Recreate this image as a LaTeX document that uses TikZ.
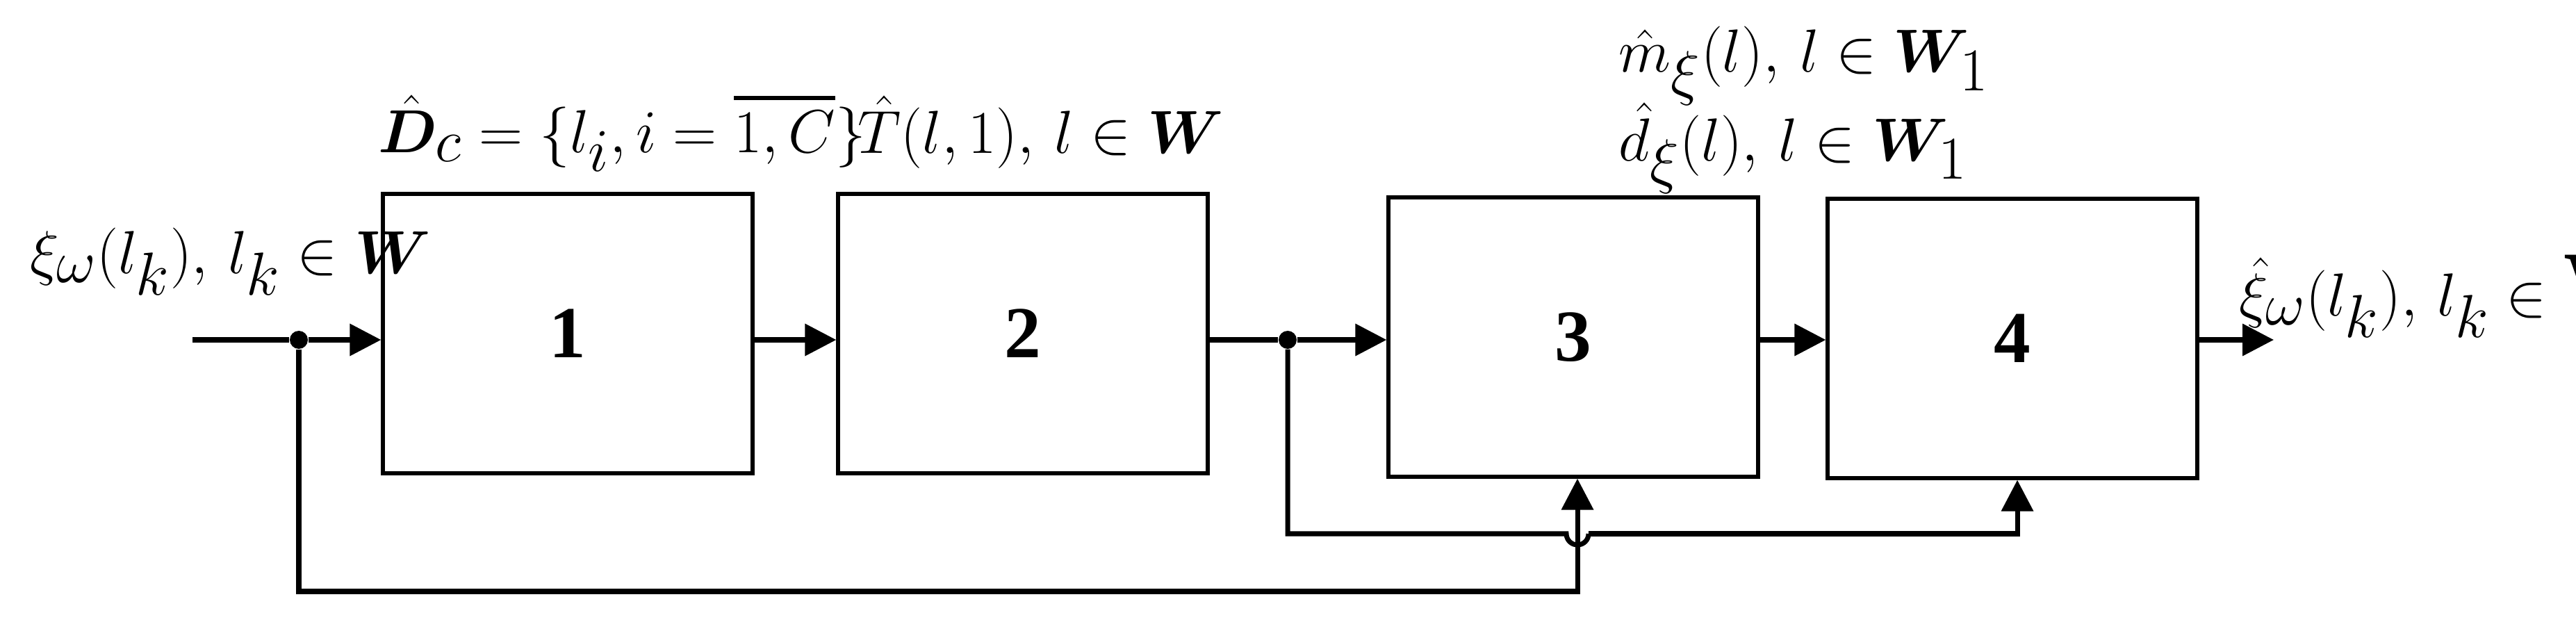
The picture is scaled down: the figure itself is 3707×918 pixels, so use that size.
\documentclass[tikz,border=0pt]{standalone}
\usepackage{amsmath,amssymb,bm}
\usepackage{fontspec}
\setmainfont{Liberation Serif}
\usetikzlibrary{arrows.meta}
\begin{document}
\begin{tikzpicture}[x=0.1mm,y=-0.1mm,
  blk/.style={draw,line width=1.5pt,minimum width=53.2mm,minimum height=40.2mm,inner sep=0,font=\fontsize{30}{30}\selectfont\bfseries},
  ln/.style={line width=2pt},
  arr/.style={ln,-{Triangle[length=4.5mm,width=4.5mm]}},
  lbl/.style={font=\fontsize{38}{42}\selectfont,inner sep=0,anchor=west},
  dot/.style={circle,fill,inner sep=0,minimum size=2.6mm}]
\useasboundingbox (0,0) rectangle (3707,918);
\node[blk] (b1) at (817,480) {1};
\node[blk] (b2) at (1472,480) {2};
\node[blk] (b3) at (2264,485) {3};
\node[blk] (b4) at (2896,487) {4};
\coordinate (in) at (277,489);
\node[dot] (j1) at (430,489) {};
\node[dot] (j2) at (1853,489) {};
\coordinate (out) at (3272,489);
\draw[ln] (in) -- (j1);
\draw[arr] (j1) -- (b1.west|-j1);
\draw[arr] (b1.east|-j1) -- (b2.west|-j1);
\draw[ln] (b2.east|-j1) -- (j2);
\draw[arr] (j2) -- (b3.west|-j2);
\draw[arr] (b3.east|-j2) -- (b4.west|-j2);
\draw[arr] (b4.east|-j2) -- (out);
\coordinate (c1) at (430,851);
\coordinate (c2) at (2270,851);
\draw[arr] (j1) -- (c1) -- (c2) -- (b3.south-|c2);
\coordinate (d1) at (1853,768);
\coordinate (d2) at (2254,768);
\coordinate (d3) at (2286,768);
\coordinate (d4) at (2903,768);
\draw[ln] (j2) -- (d1) -- (d2) arc[start angle=180,end angle=0,radius=16];
\draw[arr] (d3) -- (d4) -- (b4.south-|d4);
\node[lbl] (t0) at (43,376) {$\xi_\omega(l_k),\, l_k\in \bm{W}$};
\node[lbl] (t1) at (544,190) {$\hat{\bm{D}}_c=\{l_i, i=\overline{1,C}\}$};
\node[lbl] (t2) at (1234,190) {$\hat{T}(l,1),\, l\in \bm{W}$};
\node[lbl] (t3) at (2329,95) {$\hat{m}_\xi(l),\, l\in \bm{W}_1$};
\node[lbl] (t4) at (2329,213) {$\hat{d}_\xi(l),\, l\in \bm{W}_1$};
\node[lbl] (t5) at (3222,426) {$\hat{\xi}_\omega(l_k),\, l_k\in \mathbf{W}$};
\end{tikzpicture}
\end{document}
